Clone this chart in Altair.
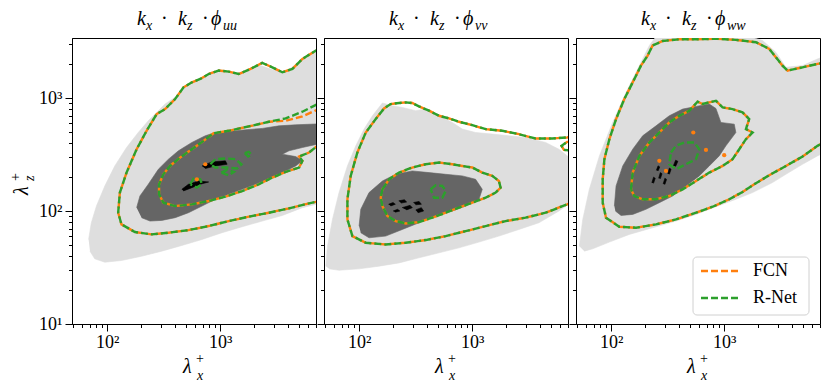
import altair as alt
import pandas as pd

# ---------------- axes / labels ----------------
X_DOMAIN = [49, 7000]
Z_DOMAIN = [10, 3400]
X_TICKS = [50, 60, 70, 80, 90, 100, 200, 300, 400, 500, 600, 700, 800, 900,
           1000, 2000, 3000, 4000, 5000, 6000, 7000]
Z_TICKS = [10, 20, 30, 40, 50, 60, 70, 80, 90, 100, 200, 300, 400, 500, 600,
           700, 800, 900, 1000, 2000, 3000]
X_LABELS = {100: "10²", 1000: "10³"}
Z_LABELS = {10: "10¹", 100: "10²", 1000: "10³"}
PANEL_SUBS = ["uu", "vv", "ww"]
SERIES = ["FCN", "R-Net"]
SERIES_COLORS = ["#ff7f0e", "#2ca02c"]
LEVEL_COLORS = ["#dedede", "#656565", "#000000"]

# ---------------- contour data, (log10 lambda_x+, log10 lambda_z+) ----------------
# panel 1 : k_x k_z phi_uu
P1_LIGHT = [(1.837, 1.748), (1.861, 1.896), (1.906, 2.044), (1.980, 2.222), (2.068, 2.399),
            (2.172, 2.562), (2.275, 2.695), (2.364, 2.799), (2.438, 2.873), (2.512, 2.947),
            (2.601, 3.006), (2.690, 3.095), (2.778, 3.154), (2.897, 3.213), (3.015, 3.234),
            (3.133, 3.213), (3.252, 3.252), (3.355, 3.287), (3.459, 3.252), (3.577, 3.234),
            (3.696, 3.317), (3.814, 3.391), (4.021, 3.494), (4.021, 2.104), (3.844, 2.059),
            (3.725, 2.030), (3.548, 1.961), (3.370, 1.911), (3.193, 1.861), (3.015, 1.808),
            (2.838, 1.748), (2.660, 1.695), (2.483, 1.645), (2.305, 1.600), (2.127, 1.562),
            (1.980, 1.547), (1.891, 1.577), (1.849, 1.645)]
P1_DARK = [(2.261, 2.030), (2.290, 2.133), (2.364, 2.237), (2.453, 2.370), (2.542, 2.459),
           (2.630, 2.533), (2.749, 2.607), (2.867, 2.666), (2.956, 2.695), (3.074, 2.704),
           (3.222, 2.719), (3.370, 2.731), (3.518, 2.754), (3.666, 2.763), (4.021, 2.778),
           (4.021, 2.607), (3.858, 2.592), (3.725, 2.562), (3.607, 2.533), (3.548, 2.503),
           (3.666, 2.482), (3.725, 2.444), (3.666, 2.399), (3.548, 2.340), (3.429, 2.287),
           (3.311, 2.237), (3.193, 2.192), (3.074, 2.148), (2.956, 2.104), (2.838, 2.044),
           (2.719, 1.985), (2.601, 1.941), (2.483, 1.917), (2.379, 1.911), (2.305, 1.941)]
P1_PEAKS = [
    [(2.838, 2.399), (2.926, 2.435), (3.045, 2.444), (3.060, 2.414), (2.956, 2.399), (2.867, 2.376)],
    [(2.660, 2.192), (2.719, 2.237), (2.808, 2.266), (2.897, 2.257), (2.823, 2.237), (2.749, 2.207),
     (2.675, 2.178)],
]
P1_OUTER = [(4.021, 3.509), (3.844, 3.420), (3.725, 3.346), (3.637, 3.258), (3.548, 3.228),
            (3.459, 3.272), (3.370, 3.311), (3.267, 3.258), (3.163, 3.213), (3.074, 3.234),
            (2.986, 3.243), (2.897, 3.213), (2.823, 3.169), (2.749, 3.139), (2.675, 3.095),
            (2.601, 2.991), (2.512, 2.902), (2.438, 2.858), (2.349, 2.710), (2.261, 2.547),
            (2.172, 2.340), (2.113, 2.163), (2.098, 1.985), (2.127, 1.882), (2.246, 1.814),
            (2.394, 1.793), (2.542, 1.808), (2.719, 1.831), (2.897, 1.867), (3.074, 1.911),
            (3.252, 1.950), (3.429, 1.985), (3.607, 2.024), (3.784, 2.068), (4.021, 2.118)]
P1_INNER_G = [(4.021, 2.991), (3.858, 2.947), (3.725, 2.879), (3.577, 2.820), (3.429, 2.790),
              (3.252, 2.749), (3.074, 2.710), (2.941, 2.689), (2.852, 2.621), (2.749, 2.547),
              (2.645, 2.473), (2.556, 2.399), (2.497, 2.325), (2.459, 2.237), (2.459, 2.148),
              (2.497, 2.074), (2.601, 2.044), (2.749, 2.059), (2.897, 2.089), (3.045, 2.127),
              (3.193, 2.177), (3.341, 2.237), (3.459, 2.296), (3.577, 2.346), (3.696, 2.385),
              (3.725, 2.444), (3.696, 2.482), (3.784, 2.518), (3.858, 2.577), (4.021, 2.666)]
P1_INNER_O = [(4.021, 2.926), (3.858, 2.897), (3.725, 2.838), (3.577, 2.799), (3.429, 2.790),
              (3.252, 2.749), (3.074, 2.710), (2.941, 2.689), (2.852, 2.621), (2.749, 2.547),
              (2.645, 2.473), (2.556, 2.399), (2.497, 2.325), (2.459, 2.237), (2.459, 2.148),
              (2.497, 2.074), (2.601, 2.044), (2.749, 2.059), (2.897, 2.089), (3.045, 2.127),
              (3.193, 2.177), (3.341, 2.237), (3.459, 2.296), (3.577, 2.346), (3.696, 2.385),
              (3.725, 2.444), (3.696, 2.482), (3.784, 2.518), (3.858, 2.577), (4.021, 2.666)]
P1_LOOPS = [
    [(2.912, 2.414), (2.956, 2.459), (3.045, 2.465), (3.133, 2.459), (3.187, 2.414), (3.148, 2.376),
     (3.045, 2.385), (2.956, 2.385)],
    [(3.009, 2.340), (3.060, 2.364), (3.119, 2.346), (3.074, 2.317)],
    [(2.734, 2.237), (2.764, 2.287), (2.823, 2.281), (2.838, 2.237), (2.793, 2.207)],
    [(3.216, 2.512), (3.252, 2.524), (3.276, 2.500), (3.246, 2.482)],
]
P1_DOTS = [(2.793, 2.281), (2.867, 2.414)]

# panel 2 : k_x k_z phi_vv
P2_LIGHT = [(1.706, 1.512), (1.721, 1.689), (1.765, 1.926), (1.823, 2.163), (1.897, 2.399),
            (1.971, 2.577), (2.044, 2.725), (2.118, 2.843), (2.206, 2.956), (2.294, 2.932),
            (2.382, 2.917), (2.500, 2.888), (2.588, 2.902), (2.706, 2.843), (2.823, 2.784),
            (2.912, 2.725), (3.029, 2.695), (3.176, 2.681), (3.323, 2.666), (3.470, 2.651),
            (3.647, 2.607), (3.765, 2.547), (3.912, 2.429), (3.970, 2.252), (3.912, 2.104),
            (3.765, 2.000), (3.588, 1.896), (3.412, 1.837), (3.235, 1.778), (3.059, 1.725),
            (2.882, 1.674), (2.706, 1.630), (2.529, 1.586), (2.353, 1.541), (2.176, 1.512),
            (2.000, 1.488), (1.823, 1.476), (1.735, 1.488)]
P2_DARK = [(2.000, 1.867), (2.015, 2.015), (2.088, 2.163), (2.206, 2.266), (2.323, 2.325),
           (2.470, 2.355), (2.618, 2.340), (2.765, 2.325), (2.912, 2.311), (3.029, 2.281),
           (3.088, 2.192), (3.059, 2.104), (2.941, 2.044), (2.823, 2.000), (2.676, 1.956),
           (2.529, 1.896), (2.382, 1.837), (2.235, 1.778), (2.088, 1.763), (2.015, 1.808)]
P2_PEAKS = [
    [(2.26, 2.060), (2.30, 2.075), (2.32, 2.060), (2.28, 2.045)],
    [(2.35, 2.090), (2.40, 2.100), (2.42, 2.080), (2.37, 2.070)],
    [(2.38, 2.030), (2.45, 2.050), (2.47, 2.030), (2.42, 2.010)],
    [(2.48, 2.075), (2.53, 2.085), (2.55, 2.060), (2.50, 2.055)],
    [(2.50, 2.010), (2.55, 2.030), (2.57, 2.000), (2.52, 1.985)],
    [(2.30, 2.000), (2.34, 2.015), (2.36, 2.000), (2.32, 1.990)],
]
P2_OUTER = [(4.000, 2.680), (3.838, 2.651), (3.706, 2.642), (3.559, 2.642), (3.412, 2.680),
            (3.265, 2.710), (3.118, 2.725), (3.000, 2.760), (2.882, 2.790), (2.794, 2.820),
            (2.706, 2.843), (2.618, 2.888), (2.529, 2.926), (2.470, 2.956), (2.412, 2.962),
            (2.353, 2.956), (2.279, 2.947), (2.220, 2.908), (2.147, 2.814), (2.059, 2.695),
            (1.985, 2.518), (1.926, 2.311), (1.897, 2.104), (1.897, 1.926), (1.941, 1.778),
            (2.059, 1.719), (2.235, 1.704), (2.412, 1.719), (2.588, 1.743), (2.765, 1.778),
            (2.941, 1.822), (3.118, 1.867), (3.294, 1.911), (3.470, 1.941), (3.647, 1.985),
            (3.838, 2.059), (4.000, 2.133)]
P2_HOOK = [(4.000, 2.621), (3.838, 2.612), (3.788, 2.577), (3.809, 2.541), (4.000, 2.524)]
P2_INNER = [(2.206, 2.192), (2.265, 2.281), (2.353, 2.340), (2.470, 2.385), (2.588, 2.414),
            (2.706, 2.429), (2.823, 2.414), (2.912, 2.399), (3.000, 2.385), (3.088, 2.340),
            (3.176, 2.311), (3.235, 2.266), (3.250, 2.207), (3.206, 2.163), (3.118, 2.118),
            (3.000, 2.074), (2.882, 2.030), (2.765, 1.985), (2.647, 1.941), (2.529, 1.902),
            (2.412, 1.890), (2.323, 1.911), (2.250, 1.956), (2.206, 2.044), (2.191, 2.118)]
P2_LOOPS = [
    [(2.632, 2.192), (2.676, 2.228), (2.735, 2.222), (2.765, 2.178), (2.735, 2.118), (2.662, 2.118)],
]

# panel 3 : k_x k_z phi_ww
P3_LIGHT = [(1.720, 1.689), (1.750, 1.926), (1.808, 2.192), (1.897, 2.488), (2.014, 2.784),
            (2.132, 3.050), (2.250, 3.287), (2.338, 3.465), (2.426, 3.583), (2.603, 3.642),
            (2.867, 3.642), (3.102, 3.583), (3.338, 3.509), (3.455, 3.405), (3.544, 3.272),
            (3.691, 3.287), (3.823, 3.346), (3.985, 3.405), (3.985, 2.562), (3.823, 2.488),
            (3.691, 2.414), (3.544, 2.325), (3.426, 2.252), (3.250, 2.163), (3.102, 2.104),
            (2.926, 2.038), (2.750, 1.970), (2.573, 1.911), (2.367, 1.852), (2.161, 1.793),
            (1.985, 1.725), (1.838, 1.666), (1.764, 1.645)]
P3_DARK = [(2.029, 2.044), (2.044, 2.222), (2.103, 2.399), (2.191, 2.547), (2.279, 2.666),
           (2.397, 2.754), (2.514, 2.843), (2.632, 2.902), (2.750, 2.926), (2.867, 2.947),
           (2.926, 2.908), (2.970, 2.784), (3.088, 2.769), (3.102, 2.695), (3.014, 2.577),
           (2.955, 2.488), (2.867, 2.399), (2.779, 2.311), (2.661, 2.222), (2.544, 2.133),
           (2.426, 2.074), (2.308, 2.015), (2.191, 1.970), (2.088, 1.961), (2.038, 2.000)]
P3_PEAKS = [
    [(2.360, 2.250), (2.375, 2.300), (2.390, 2.290), (2.375, 2.245)],
    [(2.420, 2.290), (2.435, 2.340), (2.450, 2.330), (2.435, 2.285)],
    [(2.460, 2.240), (2.475, 2.290), (2.490, 2.280), (2.475, 2.235)],
    [(2.500, 2.330), (2.515, 2.380), (2.530, 2.370), (2.515, 2.325)],
    [(2.550, 2.400), (2.570, 2.450), (2.590, 2.440), (2.570, 2.395)],
    [(2.400, 2.360), (2.415, 2.400), (2.430, 2.390), (2.415, 2.355)],
]
P3_OUTER = [(3.985, 3.331), (3.823, 3.302), (3.691, 3.272), (3.558, 3.243), (3.514, 3.287),
            (3.397, 3.435), (3.279, 3.494), (3.102, 3.515), (2.926, 3.525), (2.750, 3.520),
            (2.603, 3.520), (2.455, 3.505), (2.367, 3.465), (2.323, 3.376), (2.264, 3.287),
            (2.191, 3.139), (2.117, 2.991), (2.044, 2.814), (1.985, 2.636), (1.941, 2.459),
            (1.926, 2.281), (1.926, 2.074), (1.955, 1.941), (2.073, 1.861), (2.220, 1.852),
            (2.397, 1.882), (2.573, 1.926), (2.750, 1.985), (2.897, 2.038), (3.044, 2.104),
            (3.161, 2.169), (3.279, 2.246), (3.397, 2.317), (3.544, 2.399), (3.691, 2.482),
            (3.823, 2.577), (3.985, 2.666)]
P3_INNER = [(2.176, 2.192), (2.191, 2.340), (2.250, 2.488), (2.338, 2.607), (2.426, 2.695),
            (2.514, 2.784), (2.603, 2.843), (2.691, 2.888), (2.764, 2.968), (2.808, 2.947),
            (2.867, 2.962), (2.926, 2.976), (2.985, 2.917), (3.073, 2.902), (3.161, 2.873),
            (3.220, 2.814), (3.191, 2.725), (3.250, 2.695), (3.191, 2.636), (3.132, 2.547),
            (3.073, 2.459), (2.985, 2.399), (2.867, 2.340), (2.750, 2.266), (2.632, 2.192),
            (2.514, 2.133), (2.397, 2.104), (2.279, 2.104), (2.205, 2.133)]
P3_LOOPS = [
    [(2.529, 2.518), (2.573, 2.577), (2.647, 2.607), (2.735, 2.607), (2.779, 2.547), (2.750, 2.459),
     (2.661, 2.414), (2.573, 2.370), (2.514, 2.414)],
]
P3_DOTS = [(2.726, 2.695), (2.838, 2.541), (2.999, 2.494), (2.426, 2.444), (2.485, 2.355)]

PANELS = [
    dict(light=P1_LIGHT, dark=P1_DARK, peaks=P1_PEAKS,
         open_o=[P1_OUTER, P1_INNER_O], open_g=[P1_OUTER, P1_INNER_G],
         closed_o=[], closed_g=P1_LOOPS, dots=P1_DOTS),
    dict(light=P2_LIGHT, dark=P2_DARK, peaks=P2_PEAKS,
         open_o=[P2_OUTER, P2_HOOK], open_g=[P2_OUTER, P2_HOOK],
         closed_o=[P2_INNER], closed_g=[P2_INNER] + P2_LOOPS, dots=[]),
    dict(light=P3_LIGHT, dark=P3_DARK, peaks=P3_PEAKS,
         open_o=[P3_OUTER], open_g=[P3_OUTER],
         closed_o=[P3_INNER], closed_g=[P3_INNER] + P3_LOOPS, dots=P3_DOTS),
]

# ---------------- styling ----------------
W, H = 244, 286
SERIF = "Liberation Serif"
DASH = [7, 3]
LW = 2.4


def frame(polys, closed):
    recs = []
    for g, poly in enumerate(polys):
        pts = list(poly) + ([poly[0]] if closed else [])
        for i, (lx, lz) in enumerate(pts):
            recs.append({"g": g, "i": i, "lam_x": 10 ** lx, "lam_z": 10 ** lz})
    return pd.DataFrame(recs, columns=["g", "i", "lam_x", "lam_z"])


def label_expr(mapping):
    parts = [f"datum.value == {k} ? '{v}'" for k, v in mapping.items()]
    return " : ".join(parts) + " : ''"


def major_test(mapping):
    return " || ".join(f"datum.value == {k}" for k in mapping)


def encodings(show_y_labels):
    xax = alt.Axis(values=X_TICKS, labelExpr=label_expr(X_LABELS), title=None, grid=False,
                   tickSize={"condition": {"test": major_test(X_LABELS), "value": 7}, "value": 3.5},
                   labelFont=SERIF, labelFontSize=18, labelColor="black", tickColor="black",
                   domainColor="black", labelOverlap=False, labelPadding=2, labelFlush=False)
    yax = alt.Axis(values=Z_TICKS, labelExpr=label_expr(Z_LABELS), title=None, grid=False,
                   tickSize={"condition": {"test": major_test(Z_LABELS), "value": 7}, "value": 3.5},
                   labelFont=SERIF, labelFontSize=18, labelColor="black", tickColor="black",
                   domainColor="black", labelOverlap=False, labelPadding=3, labels=show_y_labels,
                   labelFlush=False)
    x = alt.X("lam_x:Q", scale=alt.Scale(type="log", domain=X_DOMAIN, nice=False), axis=xax)
    y = alt.Y("lam_z:Q", scale=alt.Scale(type="log", domain=Z_DOMAIN, nice=False), axis=yax)
    return x, y


ONE = pd.DataFrame({"_": [0]})


def txt(text, x, y, size, italic=True, angle=0, align="left", baseline="alphabetic"):
    kw = dict(text=text, font=SERIF, fontSize=size, color="black", align=align, baseline=baseline)
    if italic:
        kw["fontStyle"] = "italic"
    if angle:
        kw["angle"] = angle
    return alt.Chart(ONE).mark_text(**kw).encode(x=alt.value(x), y=alt.value(y))


def make_panel(idx, p):
    x, y = encodings(idx == 0)
    layers = []
    fills = [([p["light"]], LEVEL_COLORS[0]), ([p["dark"]], LEVEL_COLORS[1]), (p["peaks"], LEVEL_COLORS[2])]
    for polys, col in fills:
        layers.append(
            alt.Chart(frame(polys, False)).mark_line(fill=col, stroke=col, strokeWidth=0.6, clip=True)
            .encode(x=x, y=y, detail="g:N", order="i:Q"))
    for key_open, key_closed, col, off in [("open_o", "closed_o", SERIES_COLORS[0], 5),
                                           ("open_g", "closed_g", SERIES_COLORS[1], 0)]:
        for polys, closed in [(p[key_open], False), (p[key_closed], True)]:
            if not polys:
                continue
            layers.append(
                alt.Chart(frame(polys, closed)).mark_line(
                    color=col, strokeWidth=LW, strokeDash=DASH, strokeDashOffset=off, clip=True)
                .encode(x=x, y=y, detail="g:N", order="i:Q"))
    if p["dots"]:
        layers.append(
            alt.Chart(frame([p["dots"]], False)).mark_point(
                filled=True, color=SERIES_COLORS[0], size=18, opacity=1, clip=True)
            .encode(x=x, y=y))

    c = W / 2
    ty, sy = -13, -8
    # panel title  k_x . k_z . phi_sub
    layers += [
        txt("k", c - 57, ty, 20), txt("x", c - 48, sy, 14),
        txt("·", c - 33, ty, 20, italic=False),
        txt("k", c - 16, ty, 20), txt("z", c - 7, sy, 14),
        txt("·", c + 8, ty, 20, italic=False),
        txt("ϕ", c + 17, ty, 20), txt(PANEL_SUBS[idx], c + 29, sy, 14),
    ]
    # x label  lambda_x^+
    layers += [txt("λ", c - 11, H + 49, 20), txt("+", c + 2, H + 39, 14, italic=False),
               txt("x", c + 3, H + 56, 14)]
    if idx == 0:
        layers += [txt("λ", -44, 157, 20, angle=270), txt("+", -52, 143, 14, italic=False, angle=270),
                   txt("z", -38, 143, 14, angle=270)]
    if idx == 2:
        layers.append(alt.Chart(ONE).mark_rect(fill="white", stroke="#cccccc", strokeWidth=1,
                                               cornerRadius=4, opacity=0.9)
                      .encode(x=alt.value(117), x2=alt.value(233), y=alt.value(219), y2=alt.value(277)))
        for k, (name, col) in enumerate(zip(SERIES, SERIES_COLORS)):
            yy = 233 + 27 * k
            layers.append(alt.Chart(ONE).mark_rule(color=col, strokeWidth=LW, strokeDash=DASH)
                          .encode(x=alt.value(125), x2=alt.value(162), y=alt.value(yy)))
            layers.append(txt(name, 177, yy, 18, italic=False, baseline="middle"))
    return alt.layer(*layers).properties(width=W, height=H)


panels = [make_panel(i, p) for i, p in enumerate(PANELS)]
chart = (alt.hconcat(*panels, spacing=8, bounds="flush")
         .properties(background="white", padding={"left": 0, "top": 0, "right": 0, "bottom": 0})
         .configure_view(stroke="black", strokeWidth=1))

chart.save("out.html", embed_options={"renderer": "svg", "actions": False})
